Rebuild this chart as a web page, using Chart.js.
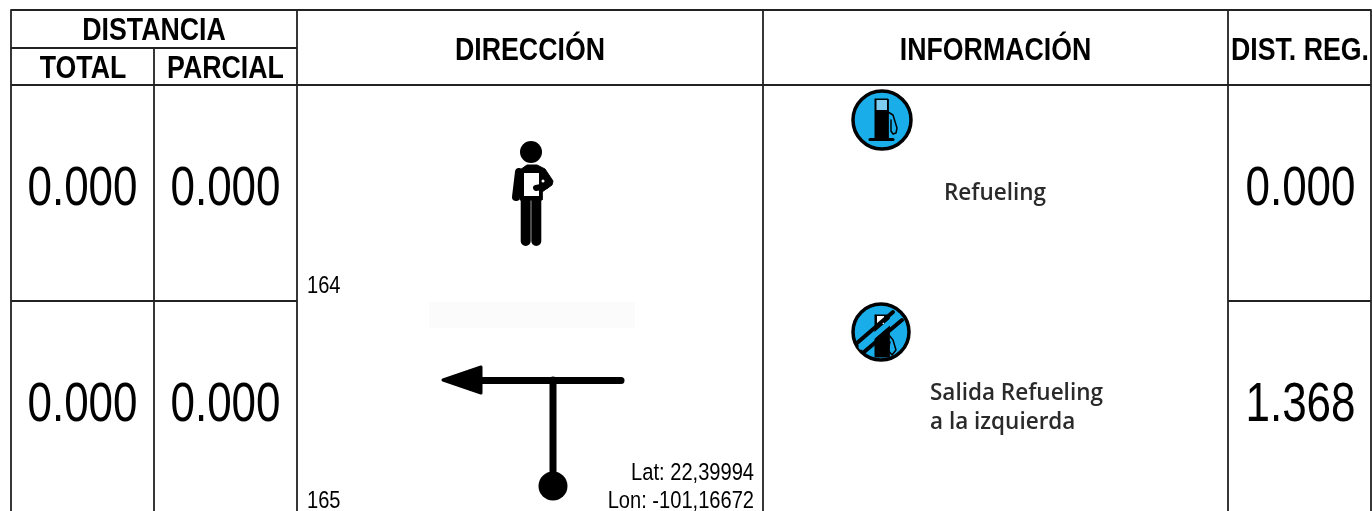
<!DOCTYPE html>
<html>
<head>
<meta charset="utf-8">
<title>Roadbook</title>
<script src="https://cdn.jsdelivr.net/npm/chart.js@4"></script>
<style>
    html, body { margin: 0; background: #fff; }
    canvas { display: block; }
</style>
</head>
<body>
<canvas id="roadbook" width="1372" height="511"></canvas>
<script>
// table contents
const headerGroup = 'DISTANCIA';
const headerSub = ['TOTAL', 'PARCIAL'];
const headerMain = ['DIRECCIÓN', 'INFORMACIÓN', 'DIST. REG.'];
const distTotal = ['0.000', '0.000'];
const distParcial = ['0.000', '0.000'];
const distReg = ['0.000', '1.368'];
const stepNumbers = ['164', '165'];
const infoLines = [['Refueling'], ['Salida Refueling', 'a la izquierda']];
const coords = ['Lat: 22,39994', 'Lon: -101,16672'];

// table rules, in image coordinates
const columnEdges = [11, 154, 297, 763, 1228, 1371];
const rowEdges = [10, 48, 85, 301, 511];

const INK = '#000';
const RULE = '#222';
const BLUE = '#19ade9';

function line(points, color, width, extra) {
    return Object.assign({
        data: points.map(p => ({ x: p[0], y: p[1] })),
        showLine: true,
        borderColor: color,
        borderWidth: width,
        borderCapStyle: 'round',
        borderJoinStyle: 'round',
        pointRadius: 0,
        tension: 0,
        fill: false,
    }, extra || {});
}

function poly(points, color, edge, width) {
    return line(points.concat([points[0]]), edge || color, width === undefined ? 1 : width, {
        backgroundColor: color,
        fill: 'shape',
    });
}

function dot(x, y, radius, color, edge, width) {
    return {
        data: [{ x: x, y: y }],
        showLine: false,
        pointStyle: 'circle',
        pointRadius: radius,
        backgroundColor: color,
        borderColor: edge || color,
        borderWidth: width || 0,
    };
}

function rule(points) {
    return line(points, RULE, 1.8, { borderCapStyle: 'butt' });
}

const c = columnEdges;
const r = rowEdges;

// listed bottom to top
const shapes = [
    // faint patch left by the pasted picture
    poly([[429, 302], [635, 302], [635, 328], [429, 328]], '#fbfbfb', '#fbfbfb', 0),

    rule([[c[0], r[0]], [c[5], r[0]]]),
    rule([[c[0], r[1]], [c[2], r[1]]]),
    rule([[c[0], r[2]], [c[5], r[2]]]),
    rule([[c[0], r[3]], [c[2], r[3]]]),
    rule([[c[4], r[3]], [c[5], r[3]]]),
    rule([[c[0], r[0]], [c[0], r[4]]]),
    rule([[c[1], r[1]], [c[1], r[4]]]),
    rule([[c[2], r[0]], [c[2], r[4]]]),
    rule([[c[3], r[0]], [c[3], r[4]]]),
    rule([[c[4], r[0]], [c[4], r[4]]]),
    rule([[c[5], r[0]], [c[5], r[4]]]),

    // person with clipboard
    dot(531, 152, 11, INK),
    poly([[520, 170], [527, 165], [537, 165], [545, 169], [553, 181], [552, 185], [542, 192], [542, 200], [520, 200]], INK),
    line([[519, 172], [516, 197]], INK, 8),
    line([[525.7, 200], [525.7, 241]], INK, 10),
    line([[536.3, 200], [536.3, 241]], INK, 10),
    poly([[524, 173], [539, 173], [539, 196], [524, 196]], '#fff', '#fff', 0),
    line([[536, 188], [546, 186]], INK, 6),
    dot(543, 181, 1.5, '#fff'),

    // turn left
    line([[480, 380.5], [621, 380.5]], INK, 7),
    line([[553, 380], [553, 487]], INK, 7),
    poly([[443, 380], [481, 367], [481, 393]], INK, INK, 3),
    dot(553, 486, 14.5, INK),

    // fuel sign
    dot(882, 120, 29, BLUE, INK, 3.5),
    poly([[875, 99], [888, 99], [888, 139], [875, 139]], INK),
    poly([[876.5, 100], [887, 100], [887, 110], [876.5, 110]], '#7fcdee', '#7fcdee', 0),
    line([[870, 139.5], [893, 139.5]], INK, 3),
    line([[888, 112], [893, 115], [897, 128], [896, 133], [893, 134], [891, 131], [891, 120]], INK, 1.5),

    // fuel sign, crossed out
    dot(881, 332, 28, BLUE, INK, 3.5),
    poly([[875, 315], [889, 315], [889, 357], [875, 357]], INK),
    poly([[877, 316], [884, 316], [884, 324], [877, 324]], '#fff', '#fff', 0),
    line([[889, 335], [893, 340], [896, 350], [892, 355], [888, 350], [890, 342]], INK, 1.5),
    line([[857, 343], [893, 312]], INK, 4),
    line([[861, 347], [897, 316]], BLUE, 5),
    line([[864, 352], [902, 320]], INK, 4),
];

const tablePainter = {
    id: 'tablePainter',
    afterDraw(chart) {
        const ctx = chart.ctx;
        const sx = chart.scales.x;
        const sy = chart.scales.y;
        // no narrow font installed, so Liberation Sans gets squeezed instead
        const put = (text, x, baseline, font, align, squeeze, color) => {
            ctx.save();
            ctx.font = font;
            ctx.textAlign = align || 'center';
            ctx.textBaseline = 'alphabetic';
            ctx.fillStyle = color || '#000';
            ctx.translate(sx.getPixelForValue(x), sy.getPixelForValue(baseline));
            ctx.scale(squeeze || 1, 1);
            ctx.fillText(text, 0, 0);
            ctx.restore();
        };
        const HEAD = 'bold 32px "Liberation Sans"';
        const NUM = '55px "Liberation Sans"';
        const SMALL = '24.5px "Liberation Sans"';
        const INFO = '600 22.5px "Open Sans"';
        const INFO_INK = '#2a2a2a';

        put(headerGroup, 154, 40, HEAD, 'center', 0.835);
        put(headerSub[0], 83, 78, HEAD, 'center', 0.835);
        put(headerSub[1], 225.5, 78, HEAD, 'center', 0.835);
        put(headerMain[0], 530, 60, HEAD, 'center', 0.835);
        put(headerMain[1], 995.5, 60, HEAD, 'center', 0.835);
        put(headerMain[2], 1300, 60, HEAD, 'center', 0.835);

        const rowBase = [205, 420.5];
        rowBase.forEach((y, i) => {
            put(distTotal[i], 82.5, y, NUM, 'center', 0.8);
            put(distParcial[i], 225.5, y, NUM, 'center', 0.8);
            put(distReg[i], 1300.5, y, NUM, 'center', 0.8);
        });

        put(stepNumbers[0], 307, 293, SMALL, 'left', 0.82);
        put(stepNumbers[1], 307, 508, SMALL, 'left', 0.82);
        put(coords[0], 754, 479.5, SMALL, 'right', 0.82);
        put(coords[1], 754, 508, SMALL, 'right', 0.82);

        put(infoLines[0][0], 995, 199.5, INFO, 'center', 1, INFO_INK);
        put(infoLines[1][0], 930, 400, INFO, 'left', 1, INFO_INK);
        put(infoLines[1][1], 930, 428.5, INFO, 'left', 1, INFO_INK);
    }
};

new Chart(document.getElementById('roadbook'), {
    type: 'scatter',
    data: { datasets: shapes.slice().reverse() },
    options: {
        responsive: false,
        animation: false,
        layout: { padding: 0, autoPadding: false },
        scales: {
            x: { type: 'linear', display: false, min: 0, max: 1372 },
            y: { type: 'linear', display: false, min: 0, max: 511, reverse: true },
        },
        plugins: {
            legend: { display: false },
            tooltip: { enabled: false },
        },
    },
    plugins: [tablePainter],
});
</script>
</body>
</html>
